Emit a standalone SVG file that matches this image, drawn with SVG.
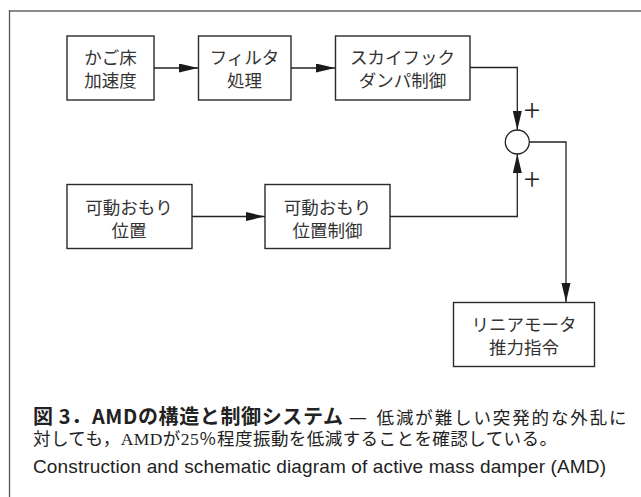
<svg xmlns="http://www.w3.org/2000/svg" width="641" height="497" viewBox="0 0 641 497">
<style>
.box{fill:#fff;stroke:#2a2a2a;stroke-width:1.4}
.lbl{font-family:"Noto Sans CJK JP","Noto Sans",sans-serif;font-size:17.5px;fill:#333;text-anchor:middle}
.ln{fill:none;stroke:#222;stroke-width:1.3}
.plus{font-family:"Noto Sans CJK JP","Liberation Sans",sans-serif;font-weight:300;font-size:30px;fill:#222;text-anchor:middle}
.capb{font-family:"Noto Sans CJK JP",sans-serif;font-size:20px;font-weight:bold;fill:#222}
.caps{font-family:"Liberation Serif","Noto Sans CJK JP",serif;font-size:17.5px;fill:#222}
.dash{font-family:"Noto Sans CJK JP",sans-serif;font-size:18px;fill:#222}
.cape{font-family:"Liberation Sans",Arial,sans-serif;font-size:19px;fill:#222}
</style>
<defs>
<marker id="ah" markerUnits="userSpaceOnUse" markerWidth="20" markerHeight="10" refX="19" refY="4.5" orient="auto">
<path d="M0,0 L19,4.5 L0,9 z" fill="#1a1a1a"/>
</marker>
</defs>
<g id="frame">
<line x1="9" y1="11" x2="641" y2="11" stroke="#8a8a8a" stroke-width="2"/>
<line x1="9.5" y1="10" x2="9.5" y2="497" stroke="#555" stroke-width="1.3"/>
</g>
<g id="connectors">
<line class="ln" x1="154" y1="68" x2="198" y2="68" marker-end="url(#ah)"/>
<line class="ln" x1="291" y1="68" x2="335" y2="68" marker-end="url(#ah)"/>
<path class="ln" d="M470,67.5 H517.3 V130" marker-end="url(#ah)"/>
<line class="ln" x1="192" y1="216.5" x2="265" y2="216.5" marker-end="url(#ah)"/>
<path class="ln" d="M390,216.5 H517.3 V154" marker-end="url(#ah)"/>
<path class="ln" d="M529.3,142 H566 V302" marker-end="url(#ah)"/>
<text class="plus" x="532" y="120.5">+</text>
<text class="plus" x="532" y="190">+</text>
</g>
<g id="n1">
<rect class="box" x="67" y="36" width="87" height="64"/>
<text class="lbl" x="110.5" y="63.5">かご床</text>
<text class="lbl" x="110.5" y="86.5">加速度</text>
</g>
<g id="n2">
<rect class="box" x="198.5" y="36" width="92.5" height="64"/>
<text class="lbl" x="244.5" y="63.5">フィルタ</text>
<text class="lbl" x="244.5" y="86.5">処理</text>
</g>
<g id="n3">
<rect class="box" x="335.5" y="36" width="134.5" height="64"/>
<text class="lbl" x="402.5" y="63.5">スカイフック</text>
<text class="lbl" x="402.5" y="86.5">ダンパ制御</text>
</g>
<g id="sum">
<circle cx="517.3" cy="142" r="12" fill="#fff" stroke="#222" stroke-width="1.3"/>
</g>
<g id="n5">
<rect class="box" x="67" y="184.5" width="125" height="64"/>
<text class="lbl" x="129" y="213.5">可動おもり</text>
<text class="lbl" x="129" y="236.5">位置</text>
</g>
<g id="n6">
<rect class="box" x="265" y="184.5" width="125" height="64"/>
<text class="lbl" x="327.5" y="213.5">可動おもり</text>
<text class="lbl" x="327.5" y="236.5">位置制御</text>
</g>
<g id="n7">
<rect class="box" x="453.5" y="302.5" width="141" height="64"/>
<text class="lbl" x="524" y="330.5">リニアモータ</text>
<text class="lbl" x="524" y="353.5">推力指令</text>
</g>
<g id="caption">
<text class="capb" x="33" y="424" textLength="310" lengthAdjust="spacing">図 3．AMDの構造と制御システム</text>
<text class="dash" x="349" y="424" textLength="18" lengthAdjust="spacingAndGlyphs">—</text>
<text class="caps" x="376.5" y="424" textLength="250" lengthAdjust="spacing">低減が難しい突発的な外乱に</text>
<text class="caps" x="33" y="445" textLength="524" lengthAdjust="spacing">対しても，AMDが25％程度振動を低減することを確認している。</text>
<text class="cape" x="33" y="473" textLength="573" lengthAdjust="spacing">Construction and schematic diagram of active mass damper (AMD)</text>
</g>
</svg>
